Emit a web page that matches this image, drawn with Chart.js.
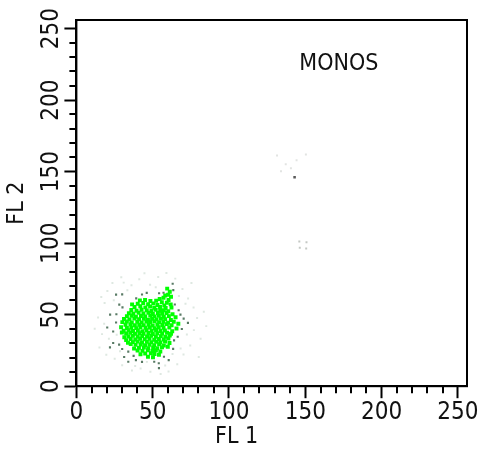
<!DOCTYPE html>
<html>
<head>
<meta charset="utf-8">
<script src="https://cdn.jsdelivr.net/npm/chart.js@4.4.0/dist/chart.umd.min.js"></script>
<style>
    html, body { margin: 0; padding: 0; background: #fff; }
    #wrap { width: 482px; height: 452px; }
</style>
</head>
<body>
<div id="wrap"><canvas id="dot-plot" width="482" height="452"></canvas></div>
<script>
const axisMax = 256;
const majorStep = 50;
const minorStep = 10;
const xTitle = "FL 1";
const yTitle = "FL 2";
const gateLabel = "MONOS";
const gateLabelAt = [172, 225];
const xTitleAt = 105;

// bright green events, dense core of the monocyte cluster
const monoCore = [
    [59.5, 68.2], [61.2, 66.1], [60.1, 64.0],
    [58.2, 63.4], [62.0, 62.5], [57.1, 61.8], [54.6, 60.9], [60.4, 60.2],
    [41.6, 60.0], [45.0, 60.3], [48.5, 59.6], [52.3, 59.8], [56.0, 58.7], [59.3, 58.4], [61.8, 57.2],
    [36.5, 57.2], [40.2, 57.6], [43.8, 58.1], [47.0, 57.3], [50.4, 57.9], [53.1, 56.8], [57.6, 56.4],
    [38.1, 55.4], [41.9, 55.9], [45.2, 55.1], [48.3, 55.7], [51.0, 54.9], [54.8, 55.3], [58.5, 54.6], [62.3, 55.0],
    [36.0, 53.2], [39.4, 52.8], [42.7, 53.5], [46.1, 53.0], [49.2, 52.6], [52.0, 53.4], [54.9, 52.7], [57.3, 53.1], [60.2, 52.4],
    [34.4, 51.0], [37.3, 50.6], [40.8, 51.3], [43.9, 50.8], [47.2, 51.4], [50.1, 50.5], [53.4, 51.1], [56.2, 50.7], [59.1, 51.2], [63.0, 50.3],
    [33.1, 48.9], [36.2, 49.3], [39.0, 48.6], [42.3, 49.1], [45.1, 48.7], [48.4, 49.4], [51.2, 48.8], [54.0, 49.2], [57.3, 48.5], [60.6, 49.0], [65.0, 48.2],
    [31.2, 47.0], [34.8, 46.6], [38.0, 47.3], [41.1, 46.8], [44.2, 47.2], [46.9, 46.5], [49.6, 47.1], [52.5, 46.7], [55.4, 47.4], [58.2, 46.9], [61.9, 46.3],
    [30.1, 44.8], [33.0, 45.2], [36.3, 44.6], [39.9, 45.1], [42.8, 44.5], [45.9, 45.3], [48.3, 44.9], [51.1, 45.4], [54.2, 44.7], [57.0, 45.0], [60.1, 44.4], [63.8, 45.1],
    [66.8, 43.6],
    [32.2, 42.9], [35.4, 43.3], [38.3, 42.6], [41.2, 43.0], [44.1, 42.7], [47.3, 43.2], [50.0, 42.5], [53.1, 43.1], [56.4, 42.8], [59.2, 43.4], [62.4, 42.6],
    [29.3, 41.2], [33.1, 40.7], [36.0, 41.0], [39.2, 40.6], [42.0, 41.3], [45.3, 40.8], [48.1, 41.1], [51.3, 40.5], [54.0, 41.2], [57.1, 40.9], [60.9, 41.0], [65.6, 40.4],
    [31.0, 38.8], [34.2, 39.2], [37.1, 38.6], [40.3, 39.0], [43.2, 38.5], [46.0, 39.1], [49.3, 38.7], [52.2, 39.3], [55.1, 38.6], [58.0, 39.0], [62.8, 38.4],
    [29.8, 37.5], [32.6, 36.9], [35.3, 37.3], [38.4, 36.6], [41.3, 37.1], [44.0, 36.7], [47.2, 37.2], [50.1, 36.5], [53.0, 37.0], [56.2, 36.8], [59.4, 37.4], [62.0, 36.6],
    [31.4, 34.2], [34.1, 34.7], [37.0, 35.2], [40.2, 34.6], [43.1, 35.1], [46.3, 34.8], [49.0, 35.3], [52.1, 34.5], [55.3, 35.0], [58.3, 34.6], [61.2, 35.4],
    [32.6, 32.2], [35.6, 33.0], [38.6, 32.6], [41.8, 33.2], [44.8, 32.8], [47.9, 33.1], [51.0, 32.5], [54.1, 33.0], [57.2, 32.7], [60.3, 33.4],
    [33.8, 30.4], [37.0, 30.8], [40.1, 31.2], [43.0, 30.6], [46.2, 31.0], [49.1, 30.7], [52.3, 31.1], [55.0, 30.5], [58.1, 31.3], [61.0, 30.2],
    [35.6, 29.4], [38.8, 28.9], [42.1, 29.2], [45.0, 28.6], [47.9, 29.0], [51.0, 28.7], [54.2, 29.3], [57.3, 28.4], [59.9, 27.6],
    [37.8, 26.4], [41.0, 26.8], [44.2, 27.1], [47.1, 26.6], [50.3, 27.0], [53.0, 26.5], [56.1, 27.2],
    [40.1, 24.9], [43.3, 24.7], [46.8, 25.1], [49.9, 24.6], [52.1, 25.2], [55.0, 24.3],
    [42.0, 22.3], [45.1, 22.8], [48.8, 23.1], [51.2, 22.5], [54.1, 22.0],
    [46.9, 20.6], [50.2, 20.2]
];

// single isolated events around the cluster (dark speckles)
const monoEdge = [
    [26.0, 64.0], [30.0, 64.2], [28.1, 57.0], [30.2, 55.1], [26.2, 50.3], [22.1, 50.0],
    [39.2, 61.4], [43.0, 64.1], [54.2, 65.0], [57.1, 65.3], [63.5, 67.2],
    [67.0, 53.1], [68.2, 50.0], [64.5, 57.1], [70.3, 47.2], [69.1, 40.0],
    [24.1, 30.2], [28.0, 29.1], [30.0, 26.0], [34.0, 24.2], [37.5, 21.2], [39.0, 18.2],
    [34.0, 17.1], [43.0, 17.0], [22.0, 27.1], [54.0, 16.0], [54.1, 12.6], [51.0, 17.1],
    [60.5, 18.2], [63.4, 26.1], [64.0, 32.0], [66.4, 34.6], [24.1, 38.2], [26.0, 44.5],
    [46.1, 65.2], [63.1, 71.6], [20.2, 41.0], [73.1, 44.3], [31.3, 20.4], [57.4, 20.6]
];

// very faint background events around the gate
const monoHaze = [
    [14.2, 48.1], [16.8, 36.4], [18.5, 58.2], [15.1, 27.0], [20.3, 66.5], [23.6, 72.1],
    [29.4, 76.2], [36.1, 70.5], [41.2, 74.8], [48.3, 71.0], [53.6, 76.4], [59.0, 79.1],
    [64.8, 75.2], [69.5, 68.0], [73.2, 61.3], [76.8, 55.0], [79.1, 47.6], [77.0, 39.2],
    [81.4, 33.1], [74.6, 28.4], [70.2, 22.1], [66.1, 15.4], [60.4, 10.2], [55.2, 8.6],
    [48.5, 10.1], [42.1, 12.4], [36.4, 11.0], [30.0, 14.6], [25.1, 19.2], [19.6, 22.0],
    [21.3, 33.2], [18.2, 43.6], [24.5, 60.1], [33.4, 67.0], [52.0, 69.2], [67.2, 63.0],
    [72.4, 36.1], [68.3, 26.4], [63.0, 22.5], [58.2, 14.4], [28.6, 24.5], [83.5, 52.1],
    [12.0, 40.2], [16.3, 62.4], [44.6, 79.0], [75.4, 72.1], [80.2, 20.4], [85.1, 42.0],
    [38.5, 14.2], [46.2, 17.0], [71.5, 57.6], [26.4, 36.0], [31.0, 72.4]
];

// scattered events far from the cluster
const strayDark = [[143.0, 146.0]];
const strayMid = [[146.1, 101.2], [150.8, 100.6], [146.4, 96.8], [150.6, 96.2]];
const strayFaint = [
    [137.2, 155.1], [140.6, 152.4], [134.1, 150.2], [144.3, 158.0], [131.5, 161.2], [150.4, 162.0]
];

const labelFont = "'Liberation Sans Narrow', 'DejaVu Sans Condensed', sans-serif";

function toPoints(list) {
    return list.map(([x, y]) => ({ x: x, y: y }));
}

function tickLabel(value) {
    return value % majorStep === 0 ? String(value) : "";
}

function majorTickColor(context) {
    return context.tick && context.tick.value % majorStep === 0 ? "#000" : "rgba(0,0,0,0)";
}

// minor ticks, plot frame and free text
const plotFrame = {
    id: "plotFrame",
    afterDraw(chart) {
        const ctx = chart.ctx;
        const area = chart.chartArea;
        const xScale = chart.scales.x;
        const yScale = chart.scales.y;

        ctx.save();
        ctx.strokeStyle = "#000";
        ctx.lineWidth = 2;
        xScale.ticks.forEach((t) => {
            if (t.value % majorStep === 0) {
                return;
            }
            const px = Math.round(xScale.getPixelForValue(t.value));
            ctx.beginPath();
            ctx.moveTo(px, area.bottom);
            ctx.lineTo(px, area.bottom + 7);
            ctx.stroke();
        });
        yScale.ticks.forEach((t) => {
            if (t.value % majorStep === 0) {
                return;
            }
            const py = Math.round(yScale.getPixelForValue(t.value));
            ctx.beginPath();
            ctx.moveTo(area.left, py);
            ctx.lineTo(area.left - 7, py);
            ctx.stroke();
        });
        ctx.strokeRect(area.left, area.top, area.right - area.left, area.bottom - area.top);

        ctx.fillStyle = "#111";
        ctx.textAlign = "center";
        ctx.textBaseline = "middle";
        ctx.font = "23px " + labelFont;
        ctx.fillText(gateLabel, xScale.getPixelForValue(gateLabelAt[0]), yScale.getPixelForValue(gateLabelAt[1]));
        ctx.fillText(xTitle, xScale.getPixelForValue(xTitleAt), area.bottom + 51);
        ctx.restore();
    }
};

const ctx = document.getElementById("dot-plot").getContext("2d");

new Chart(ctx, {
    type: "scatter",
    data: {
        datasets: [
            {
                label: "core",
                data: toPoints(monoCore),
                backgroundColor: "#00ff00",
                pointStyle: "rect",
                pointRadius: 2.8,
                borderWidth: 0
            },
            {
                label: "edge",
                data: toPoints(monoEdge),
                backgroundColor: "#587a64",
                pointStyle: "rect",
                pointRadius: 1.5,
                borderWidth: 0
            },
            {
                label: "stray dark",
                data: toPoints(strayDark),
                backgroundColor: "#5a5a5a",
                pointStyle: "rect",
                pointRadius: 1.8,
                borderWidth: 0
            },
            {
                label: "stray mid",
                data: toPoints(strayMid),
                backgroundColor: "#c4c8c4",
                pointStyle: "rect",
                pointRadius: 1.4,
                borderWidth: 0
            },
            {
                label: "stray faint",
                data: toPoints(strayFaint),
                backgroundColor: "#e2e4e2",
                pointStyle: "rect",
                pointRadius: 1.4,
                borderWidth: 0
            },
            {
                label: "haze",
                data: toPoints(monoHaze),
                backgroundColor: "rgba(190, 210, 195, 0.5)",
                pointStyle: "rect",
                pointRadius: 1.4,
                borderWidth: 0
            }
        ]
    },
    options: {
        responsive: false,
        animation: false,
        layout: {
            padding: { left: 2, right: 15, top: 20, bottom: 25 }
        },
        plugins: {
            legend: { display: false },
            tooltip: { enabled: false }
        },
        scales: {
            x: {
                type: "linear",
                min: 0,
                max: axisMax,
                border: { display: true, color: "#000", width: 2 },
                grid: {
                    drawOnChartArea: false,
                    tickLength: 12,
                    tickWidth: 2,
                    tickColor: majorTickColor
                },
                ticks: {
                    stepSize: minorStep,
                    includeBounds: false,
                    autoSkip: false,
                    maxRotation: 0,
                    padding: 0,
                    color: "#111",
                    font: { family: labelFont, size: 24 },
                    callback: tickLabel
                }
            },
            y: {
                type: "linear",
                min: 0,
                max: axisMax,
                border: { display: true, color: "#000", width: 2 },
                grid: {
                    drawOnChartArea: false,
                    tickLength: 12,
                    tickWidth: 2,
                    tickColor: majorTickColor
                },
                title: {
                    display: true,
                    text: yTitle,
                    color: "#111",
                    font: { family: labelFont, size: 23 },
                    padding: { top: 1, bottom: 21 }
                },
                ticks: {
                    stepSize: minorStep,
                    includeBounds: false,
                    autoSkip: false,
                    minRotation: 90,
                    maxRotation: 90,
                    crossAlign: "center",
                    padding: -8,
                    color: "#111",
                    font: { family: labelFont, size: 24 },
                    callback: tickLabel
                }
            }
        }
    },
    plugins: [plotFrame]
});
</script>
</body>
</html>
